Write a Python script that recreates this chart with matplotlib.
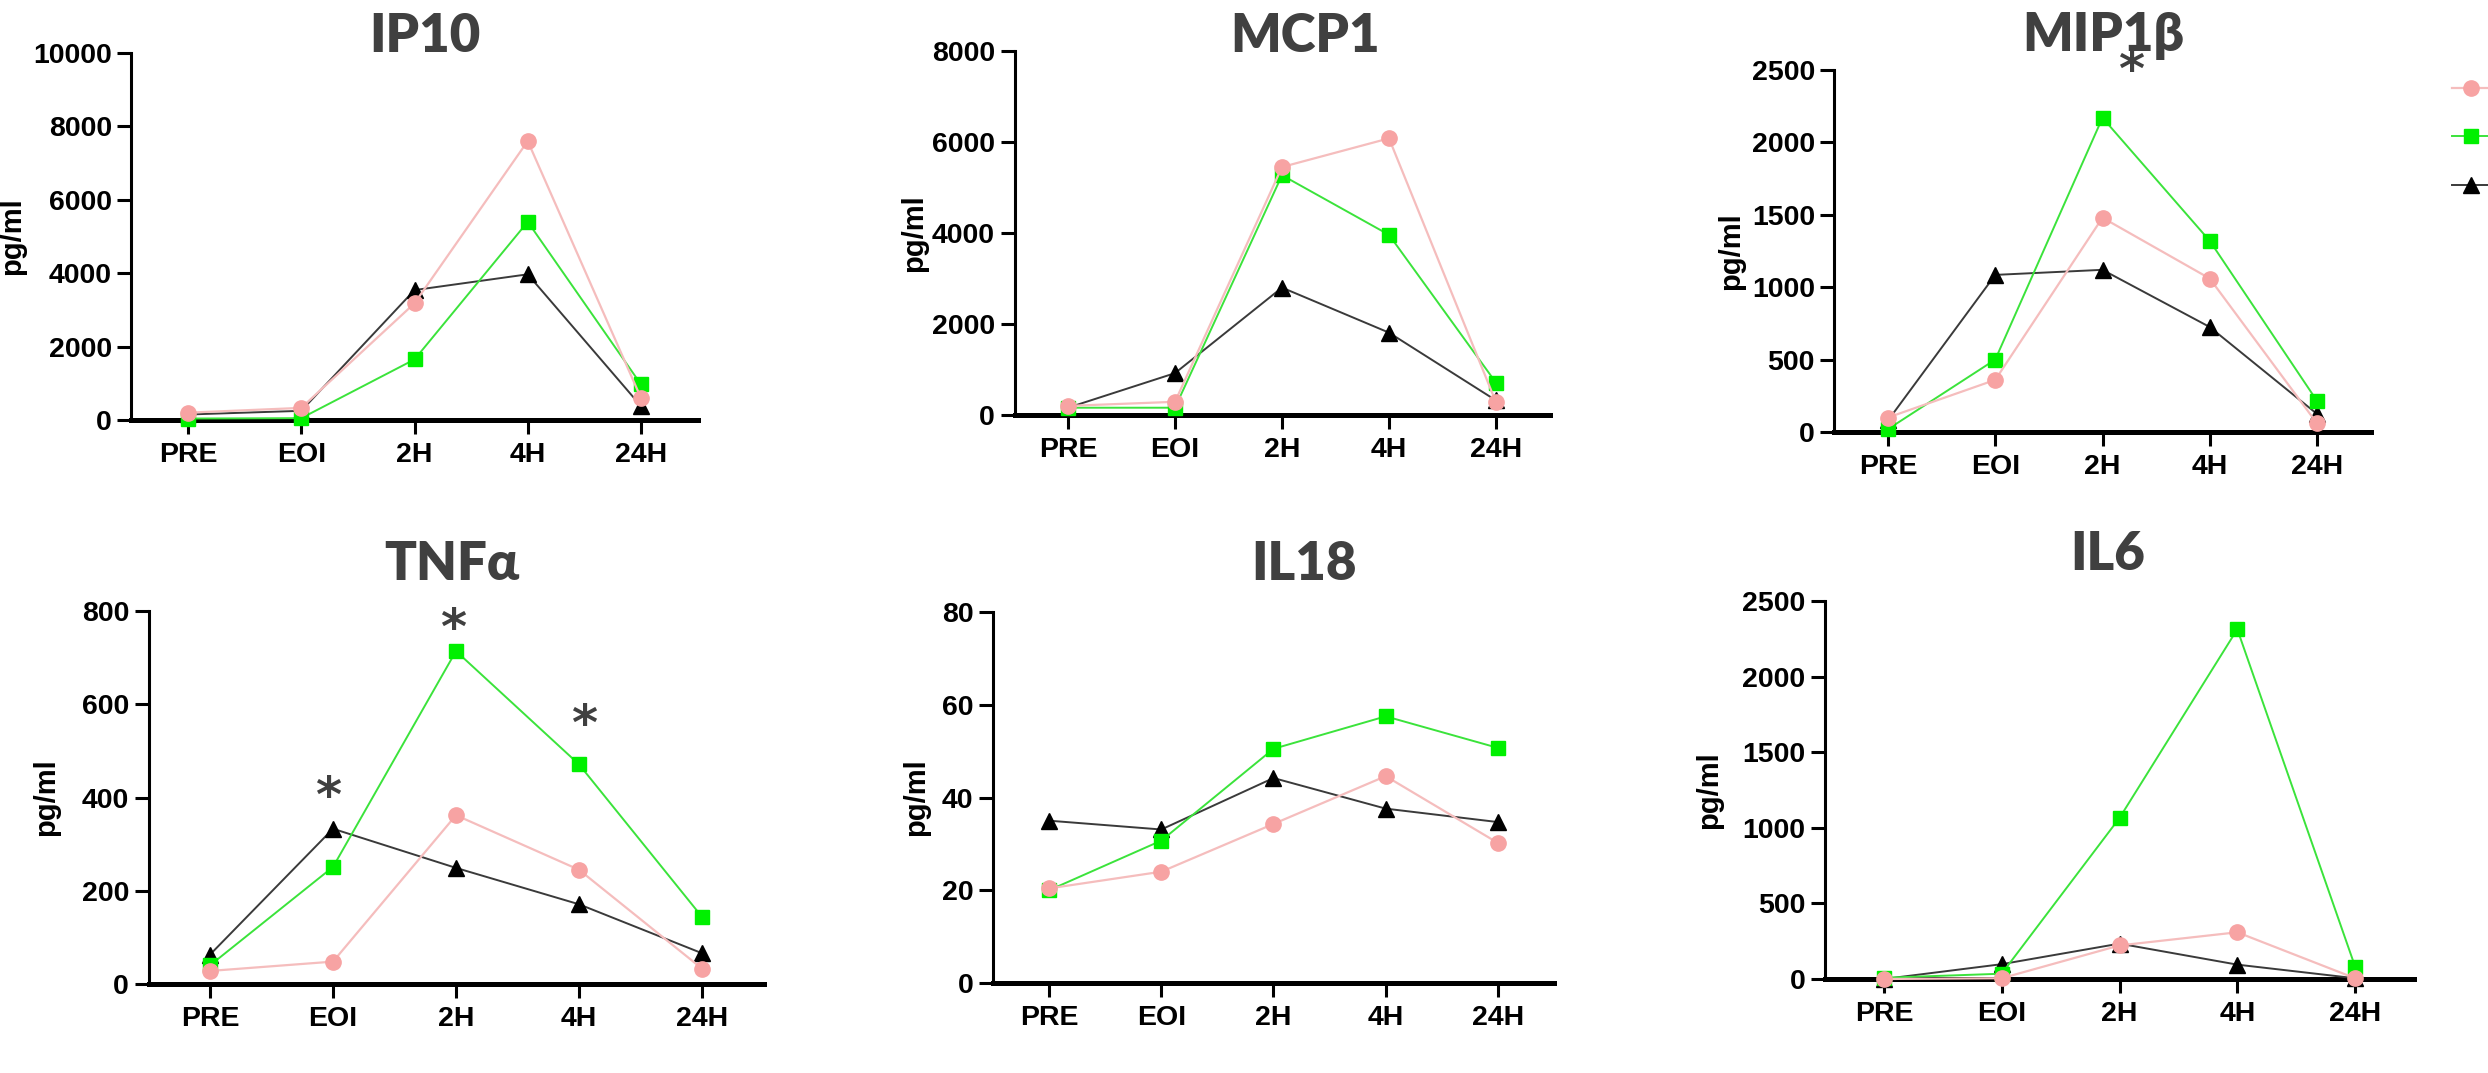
import matplotlib
matplotlib.use('Agg')
import matplotlib.pyplot as plt
from matplotlib.lines import Line2D
from matplotlib import font_manager as fm

W, H, DPI = 2488, 1073, 100

# ---------------- data ----------------
time_points = ['PRE', 'EOI', '2H', '4H', '24H']

ip10_pink = [200, 330, 3180, 7600, 600]
ip10_green = [40, 50, 1650, 5400, 970]
ip10_black = [150, 250, 3540, 3970, 380]

mcp1_pink = [200, 290, 5450, 6080, 280]
mcp1_green = [160, 160, 5270, 3960, 710]
mcp1_black = [160, 920, 2800, 1810, 320]

mip1b_pink = [100, 360, 1480, 1060, 60]
mip1b_green = [20, 500, 2170, 1320, 215]
mip1b_black = [80, 1085, 1120, 725, 125]

tnfa_pink = [28, 48, 362, 245, 33]
tnfa_green = [40, 251, 714, 471, 144]
tnfa_black = [63, 333, 249, 171, 66]

il18_pink = [20.4, 24, 34.3, 44.6, 30.2]
il18_green = [20, 30.7, 50.5, 57.5, 50.7]
il18_black = [35, 33.1, 44.2, 37.6, 34.7]

il6_pink = [0, 5, 222, 309, 5]
il6_green = [8, 35, 1065, 2313, 82]
il6_black = [0, 98, 234, 95, 5]

titles = ['IP10', 'MCP1', 'MIP1β', 'TNFα', 'IL18', 'IL6']
y_max = [10000, 8000, 2500, 800, 80, 2500]
y_step = [2000, 2000, 500, 200, 20, 500]
ylabel_text = 'pg/ml'

# significance marks: (panel index, x category position, y value)
star_panel = [2, 3, 3, 3]
star_x = [2.27, 0.96, 1.98, 3.04]
star_y = [2600, 435, 794, 589]

# ---------------- layout (pixels) ----------------
# left, right, y of zero line, y of top tick
boxes = [
    (131.4, 697.6, 420, 53),
    (1014.5, 1549.5, 415, 51),
    (1834.4, 2370.6, 432, 70),
    (148.5, 763.5, 984, 611),
    (993, 1554, 983, 612),
    (1825, 2414, 979, 601),
]
title_pos = [(425, 36), (1305, 36), (2103, 36), (452, 564), (1304, 564), (2108, 555)]
ylabel_px = [12, 914, 1731, 46, 916, 1709]


def pick(names, default):
    avail = {f.name for f in fm.fontManager.ttflist}
    for n in names:
        if n in avail:
            return n
    return default


tick_font = pick(['Liberation Sans'], 'DejaVu Sans')
title_font = pick(['Lato'], 'DejaVu Sans')

plt.rcParams['font.family'] = [tick_font, 'DejaVu Sans']

PINK_M, PINK_L = '#F7A3A3', '#F5BDBD'
GREEN_M, GREEN_L = '#00F000', '#3BE33B'
BLACK_M, BLACK_L = '#000000', '#3A3A3A'
TEXT_GRAY = '#404040'

series_data = [
    (ip10_pink, ip10_green, ip10_black),
    (mcp1_pink, mcp1_green, mcp1_black),
    (mip1b_pink, mip1b_green, mip1b_black),
    (tnfa_pink, tnfa_green, tnfa_black),
    (il18_pink, il18_green, il18_black),
    (il6_pink, il6_green, il6_black),
]

fig = plt.figure(figsize=(W / DPI, H / DPI), dpi=DPI)
fig.patch.set_facecolor('white')

axes = []
x = list(range(len(time_points)))
for i, (L, R, zero, top) in enumerate(boxes):
    ax = fig.add_axes([L / W, (H - zero) / H, (R - L) / W, (zero - top) / H])
    axes.append(ax)
    pink, green, black = series_data[i]
    ax.plot(x, black, color=BLACK_L, lw=1.4, marker='^', ms=11,
            mfc=BLACK_M, mec=BLACK_M, clip_on=False, zorder=3)
    ax.plot(x, green, color=GREEN_L, lw=1.4, marker='s', ms=10,
            mfc=GREEN_M, mec=GREEN_M, clip_on=False, zorder=4)
    ax.plot(x, pink, color=PINK_L, lw=1.6, marker='o', ms=11,
            mfc=PINK_M, mec=PINK_M, clip_on=False, zorder=5)

    ax.set_xlim(-0.5, len(time_points) - 0.5)
    ax.set_ylim(0, y_max[i])
    ax.set_xticks(x)
    ax.set_xticklabels(time_points, fontweight='bold')
    ticks = list(range(0, y_max[i] + 1, y_step[i]))
    ax.set_yticks(ticks)
    ax.set_yticklabels([str(t) for t in ticks], fontweight='bold')
    for s in ['top', 'right']:
        ax.spines[s].set_visible(False)
    ax.spines['left'].set_linewidth(2.2)
    ax.spines['bottom'].set_linewidth(3.6)
    ax.spines['bottom'].set_zorder(2)
    ax.tick_params(axis='y', direction='out', length=10, width=2.2, pad=4,
                   labelsize=20.5, colors='black')
    ax.tick_params(axis='x', direction='out', length=10, width=2.2, pad=6,
                   labelsize=20.5, colors='black')
    ax.set_ylabel(ylabel_text, fontsize=21, fontweight='bold', va='center')
    ax.yaxis.set_label_coords((ylabel_px[i] - L) / (R - L), 0.5)
    ax.patch.set_alpha(0)

    tx, ty = title_pos[i]
    fig.text(tx / W, 1 - ty / H, titles[i], ha='center', va='center',
             fontsize=38, fontweight='heavy', color=TEXT_GRAY,
             family=[title_font, 'DejaVu Sans'])

for p, sx, sy in zip(star_panel, star_x, star_y):
    axes[p].annotate('*', xy=(sx, sy), xytext=(0, -12), textcoords='offset points',
                     ha='center', va='center', fontsize=36, fontweight='bold',
                     color=TEXT_GRAY, family='DejaVu Sans', annotation_clip=False)

# legend (labels fall outside the visible canvas in the reference)
handles = [
    Line2D([], [], color=PINK_L, lw=1.6, marker='o', ms=11, mfc=PINK_M, mec=PINK_M),
    Line2D([], [], color=GREEN_L, lw=1.4, marker='s', ms=10, mfc=GREEN_M, mec=GREEN_M),
    Line2D([], [], color=BLACK_L, lw=1.4, marker='^', ms=11, mfc=BLACK_M, mec=BLACK_M),
]
fig.legend(handles, ['', '', ''], loc='center left',
           bbox_to_anchor=(2452 / W, 1 - 139 / H), frameon=False,
           borderpad=0, borderaxespad=0, handlelength=1.37, handletextpad=0.5,
           labelspacing=0.82, fontsize=20)

fig.savefig('out.png', dpi=DPI, facecolor='white')
